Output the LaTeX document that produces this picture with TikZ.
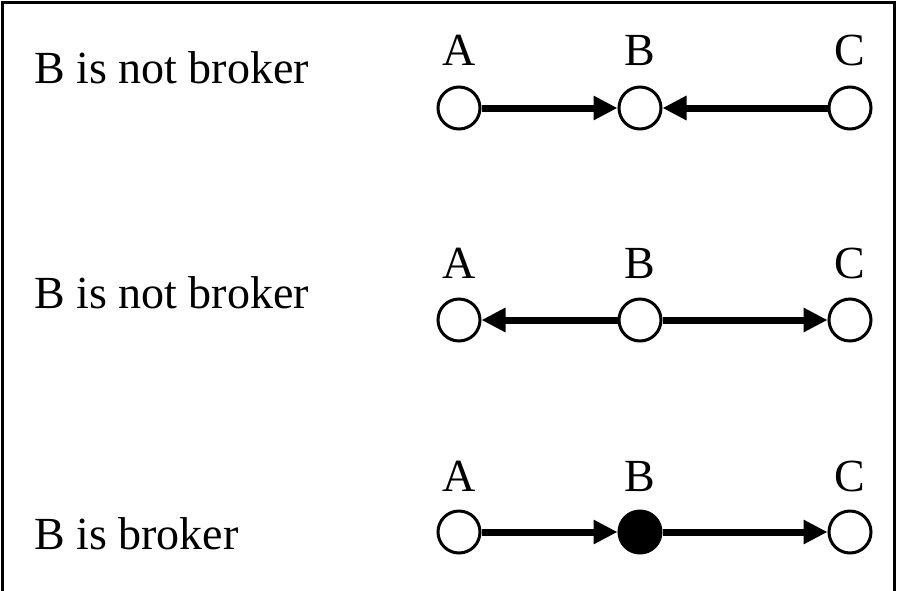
\documentclass[tikz,border=0pt]{standalone}
\usepackage{fontspec}
\setmainfont{Liberation Serif}
\usetikzlibrary{arrows.meta}
\tikzset{
  vertex/.style={circle, draw, line width=3pt, minimum size=42pt, inner sep=0pt, fill=white},
  brokervertex/.style={vertex, fill=black},
  link/.style={line width=7pt, -{Triangle[length=24pt,width=23pt]}},
  rowtext/.style={anchor=base west, inner sep=0pt, font=\fontsize{46}{55}\selectfont},
  vlabel/.style={anchor=base, inner sep=0pt, font=\fontsize{46}{55}\selectfont},
}
\begin{document}
\begin{tikzpicture}[x=1pt,y=-1pt]
\useasboundingbox (0,0) rectangle (898,590);
% open frame (cut off at the bottom)
\draw[line width=3pt] (2.5,592) -- (2.5,2.5) -- (894.5,2.5) -- (894.5,592);

% row 1: A -> B <- C
\node[rowtext] (t1) at (34,83) {B is not broker};
\node[vertex] (a1) at (459,108) {};
\node[vertex] (b1) at (640,108) {};
\node[vertex] (c1) at (850,108) {};
\node[vlabel] (la1) at (459,65) {A};
\node[vlabel] (lb1) at (640,65) {B};
\node[vlabel] (lc1) at (850,65) {C};
\draw[link] (a1) -- (b1);
\draw[link] (c1) -- (b1);

% row 2: A <- B -> C
\node[rowtext] (t2) at (34,308) {B is not broker};
\node[vertex] (a2) at (459,320) {};
\node[vertex] (b2) at (640,320) {};
\node[vertex] (c2) at (850,320) {};
\node[vlabel] (la2) at (459,278) {A};
\node[vlabel] (lb2) at (640,278) {B};
\node[vlabel] (lc2) at (850,278) {C};
\draw[link] (b2) -- (a2);
\draw[link] (b2) -- (c2);

% row 3: A -> B -> C, B filled
\node[rowtext] (t3) at (34,549) {B is broker};
\node[vertex] (a3) at (459,532) {};
\node[brokervertex] (b3) at (640,532) {};
\node[vertex] (c3) at (850,532) {};
\node[vlabel] (la3) at (459,491) {A};
\node[vlabel] (lb3) at (640,491) {B};
\node[vlabel] (lc3) at (850,491) {C};
\draw[link] (a3) -- (b3);
\draw[link] (b3) -- (c3);
\end{tikzpicture}
\end{document}
